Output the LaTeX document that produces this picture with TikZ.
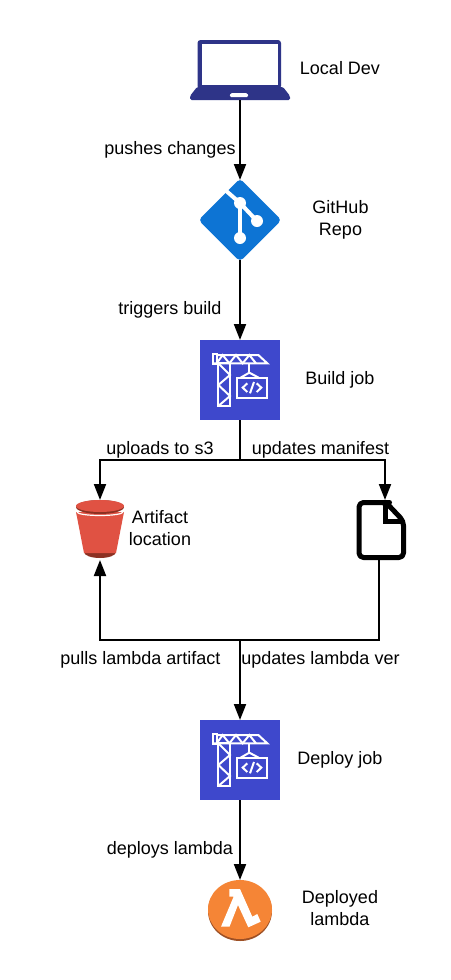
\documentclass[tikz,border=0pt]{standalone}
\usepackage{fontspec}
\setmainfont{Liberation Sans}
\usetikzlibrary{arrows.meta}
\definecolor{laptopblue}{HTML}{2E3488}
\definecolor{gitblue}{HTML}{0D74D4}
\definecolor{awsblue}{HTML}{3E48CC}
\definecolor{bucketred}{HTML}{E05243}
\definecolor{bucketdark}{HTML}{8C3123}
\definecolor{lambdaorange}{HTML}{F58536}
\definecolor{lambdadark}{HTML}{9D5025}
\tikzset{
  lbl/.style={font=\fontsize{18}{21.33}\selectfont, inner sep=0pt, align=center, text=black},
  iconbox/.style={inner sep=0pt, outer sep=0pt, minimum width=#1, minimum height=#1},
  conn/.style={line width=2pt, draw=black, -{Triangle[length=16pt,width=12pt]}},
  plainconn/.style={line width=2pt, draw=black},
  awsbox/.style={fill=awsblue, inner sep=0pt, outer sep=0pt, minimum width=80pt, minimum height=80pt},
  cranestroke/.style={draw=white, line width=2pt, line join=miter}
}
\newcommand{\craneicon}[1]{%
  \begin{scope}[shift={#1}, x=0.3333pt, y=-0.3333pt]
    \draw[cranestroke] (69,72) rectangle (80,102);
    \draw[cranestroke] (80,75) -- (205,75) -- (232,100) -- (69,100);
    \draw[cranestroke] (80,100) -- (98,75) -- (118,100) -- (138,75) -- (158,100) -- (178,75) -- (198,100);
    \draw[cranestroke] (85,100) rectangle (120,228);
    \draw[cranestroke] (85,100) -- (120,135) -- (85,165) -- (120,198) -- (85,228);
    \draw[cranestroke] (178,100) -- (178,128);
    \draw[cranestroke] (152,143) -- (178,128) -- (206,143);
    \draw[cranestroke] (142,143) rectangle (230,203);
    \draw[cranestroke] (172,160) -- (158,173) -- (172,186);
    \draw[cranestroke] (200,160) -- (214,173) -- (200,186);
    \draw[cranestroke] (192,156) -- (180,190);
  \end{scope}}
\begin{document}
\begin{tikzpicture}[x=1pt,y=-1pt]
\useasboundingbox (0,0) rectangle (450,980);
\fill[white] (0,0) rectangle (450,980);

% icon nodes
\node[inner sep=0pt, outer sep=0pt, minimum width=100pt, minimum height=60pt] (laptop) at (240,70) {};
\node[iconbox=80pt] (git) at (240,220) {};
\node[awsbox] (build) at (240,380) {};
\node[inner sep=0pt, outer sep=0pt, minimum width=50pt, minimum height=60pt] (bucket) at (100,530) {};
\node[inner sep=0pt, outer sep=0pt, minimum width=50pt, minimum height=60pt] (doc) at (381,530) {};
\node[awsbox] (deploy) at (240,760) {};
\node[inner sep=0pt, outer sep=0pt, minimum width=64pt, minimum height=60pt] (lambda) at (240,910) {};
\coordinate (split) at (240,460);
\coordinate (merge) at (240,640);

% laptop
\fill[laptopblue, rounded corners=3pt] (197.5,89) -- (197.5,40) -- (281,40) -- (281,89) -- cycle;
\fill[white] (201.5,44) rectangle (277.5,85);
\fill[laptopblue, rounded corners=1.5pt] (197,87) -- (283,87) -- (290,96) -- (290,100) -- (190,100) -- (190,96) -- cycle;
\fill[white, rounded corners=1.5pt] (230.5,93) -- (247.5,93) -- (248.5,97) -- (229.5,97) -- cycle;

% git
\fill[gitblue, rounded corners=4pt] (240,178.5) -- (281.5,220) -- (240,261.5) -- (198.5,220) -- cycle;
\draw[white, line width=4pt] (224,189) -- (240,203) -- (257,221);
\draw[white, line width=4pt] (240,203) -- (240,238);
\fill[white] (240,203) circle (6pt) (257,221) circle (6pt) (240,238) circle (6pt);

% crane icons
\craneicon{(190,330)}
\craneicon{(190,710)}

% bucket
\fill[bucketdark] (84,552) arc (180:360:16pt and 6pt) -- cycle;
\fill[bucketred] (76,512) -- (124,512) -- (116,553) -- (84,553) -- cycle;
\fill[bucketdark] (100,507) ellipse (24pt and 7pt);
\fill[bucketred] (100,506) ellipse (24pt and 6pt);
\draw[white, line width=1.2pt] (77,512) arc (180:360:23pt and 3.5pt);

% document
\draw[black, line width=5pt, rounded corners=4.5pt, line join=round] (385,502.5) -- (359,502.5) -- (359,557.5) -- (403.5,557.5) -- (403.5,521) -- (386,502.5) -- cycle;
\draw[black, line width=5pt, line join=miter] (385,502.5) -- (385,521.5) -- (403.5,521.5);

% lambda
\fill[lambdadark] (240,911) ellipse (32pt and 30pt);
\fill[lambdaorange] (240,909.5) ellipse (32pt and 29.5pt);
\fill[white] (229.3,889) -- (240,889) -- (252.3,916.7) -- (257.3,914) -- (260.7,921.7) -- (248.3,927.3) -- (238,905) -- (229.5,926.7) -- (221,926.7) -- (233.7,896.5) -- (229.3,896.5) -- cycle;

% connectors
\draw[conn] (laptop.south) -- (git.north);
\draw[conn] (git.south) -- (build.north);
\draw[conn] (build.south) -- (split) -| (bucket.north);
\draw[conn] (split) -| ([xshift=4pt]doc.north);
\draw[plainconn] ([xshift=-2pt]doc.south) |- (merge);
\draw[conn] (merge) -- (deploy.north);
\draw[conn] (merge) -| (bucket.south);
\draw[conn] (deploy.south) -- (lambda.north);

% labels
\node[lbl] (tlocal) at (340,70) {\strut Local Dev};
\node[lbl] (tpush) at (170,150) {\strut pushes changes};
\node[lbl] (tgit) at (340.5,220.2) {\strut GitHub\\\strut Repo};
\node[lbl] (ttrig) at (170,310) {\strut triggers build};
\node[lbl] (tbuild) at (340,380) {\strut Build job};
\node[lbl] (tup) at (160,450) {\strut uploads to s3};
\node[lbl] (tman) at (320.5,450) {\strut updates manifest};
\node[lbl] (tart) at (160,530.2) {\strut Artifact\\\strut location};
\node[lbl] (tpull) at (140.5,660) {\strut pulls lambda artifact};
\node[lbl] (tver) at (320.5,660) {\strut updates lambda ver};
\node[lbl] (tdep) at (340,760) {\strut Deploy job};
\node[lbl] (tdeps) at (170,850) {\strut deploys lambda};
\node[lbl] (tlam) at (340,910.2) {\strut Deployed\\\strut lambda};
\end{tikzpicture}
\end{document}
